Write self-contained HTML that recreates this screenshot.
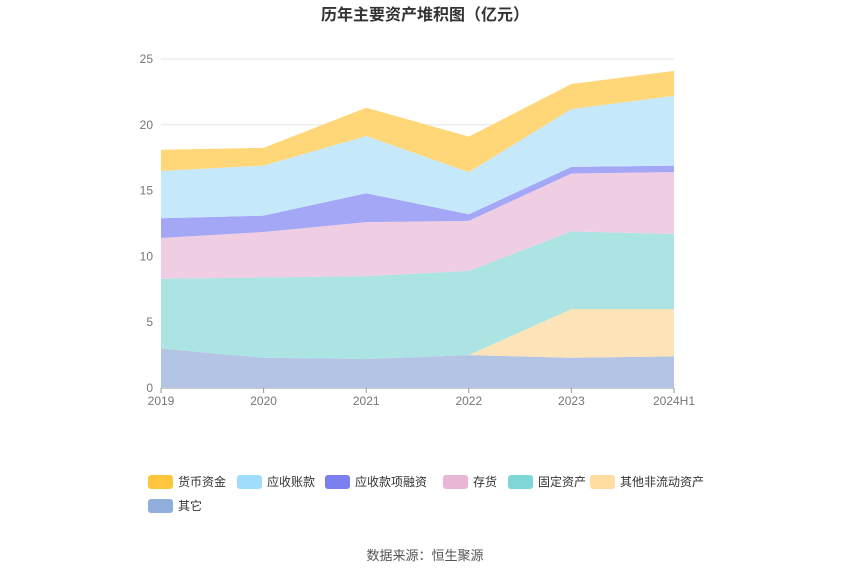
<!DOCTYPE html>
<html><head><meta charset="utf-8"><style>
body{margin:0;background:#fff;font-family:"Liberation Sans","Noto Sans CJK SC",sans-serif;}
</style></head><body>
<svg id="c" width="850" height="575" xmlns="http://www.w3.org/2000/svg">
<text x="425" y="20" text-anchor="middle" font-size="16" font-weight="bold" fill="#333">历年主要资产堆积图（亿元）</text>
<g id="grid"></g><g id="areas"></g><g id="axes"></g><g id="legend"></g>
<text x="425" y="560" text-anchor="middle" font-size="13" fill="#555">数据来源：恒生聚源</text>
</svg>
<script>
const categories=["2019","2020","2021","2022","2023","2024H1"];
const seriesNames=["其它","其他非流动资产","固定资产","存货","应收款项融资","应收账款","货币资金"];
const other=[3.0,2.3,2.2,2.5,2.3,2.4];
const otherNonCurrent=[0,0,0,0,3.7,3.6];
const fixedAssets=[5.3,6.1,6.3,6.4,5.9,5.7];
const inventory=[3.1,3.45,4.1,3.8,4.4,4.7];
const receivablesFin=[1.5,1.25,2.2,0.5,0.5,0.5];
const receivables=[3.6,3.8,4.35,3.2,4.4,5.3];
const cash=[1.6,1.35,2.15,2.7,1.9,1.9];
const yTicks=[0,5,10,15,20,25];
const series=[other,otherNonCurrent,fixedAssets,inventory,receivablesFin,receivables,cash];
const fills=["#b3c4e4","#fde3b8","#ace3e3","#efcee3","#a4a6f6","#c5e9fb","#ffd778"];
const legendColors=["#8faedb","#ffdca0","#80d6d6","#e9b6d6","#7b7ff0","#a0dcfb","#ffc53d"];
const ns="http://www.w3.org/2000/svg";
const x0=161,x1=674,y0=388,yTop=59,yMax=25;
const X=i=>x0+(x1-x0)*i/(categories.length-1);
const Y=v=>y0-(y0-yTop)*v/yMax;
function mk(t,a,p){const e=document.createElementNS(ns,t);for(const k in a)e.setAttribute(k,a[k]);p.appendChild(e);return e;}
const grid=document.getElementById('grid'),axes=document.getElementById('axes'),areas=document.getElementById('areas'),legend=document.getElementById('legend');
yTicks.forEach(v=>{
 const l=mk('line',{x1:x0,x2:x1,y1:Y(v),y2:Y(v),stroke:v===0?'#999':'#e6e6e6'},grid);
 
 
 const t=mk('text',{x:153,y:Y(v)+4,'text-anchor':'end','font-size':12,fill:'#777'},axes);
 t.textContent=v;
 
 
});
categories.forEach((c,i)=>{
 mk('line',{x1:X(i),x2:X(i),y1:y0,y2:y0+5,stroke:'#999'},axes);
 const t=mk('text',{x:X(i),y:405,'text-anchor':'middle','font-size':12,fill:'#777'},axes);
 t.textContent=c;
 
 
});
let base=categories.map(()=>0);
series.forEach((s,k)=>{
 const top=base.map((b,i)=>b+s[i]);
 let d='M'+top.map((v,i)=>X(i)+','+Y(v)).join('L');
 for(let i=categories.length-1;i>=0;i--)d+='L'+X(i)+','+Y(base[i]);
 const p=mk('path',{d:d+'Z',fill:fills[k]},areas);
 
 
 base=top;
});
const legendOrder=[6,5,4,3,2,1,0];
const lx=[148,237,325,443,508,590,148],ly=[482,482,482,482,482,482,506];
legendOrder.forEach((k,j)=>{
 const g=mk('g',{},legend);
 
 
 mk('rect',{x:lx[j],y:ly[j]-7,width:25,height:14,rx:3,fill:legendColors[k]},g);
 const t=mk('text',{x:lx[j]+30,y:ly[j]+4,'font-size':12,fill:'#333'},g);
 t.textContent=seriesNames[k];
});
</script>
</body></html>
